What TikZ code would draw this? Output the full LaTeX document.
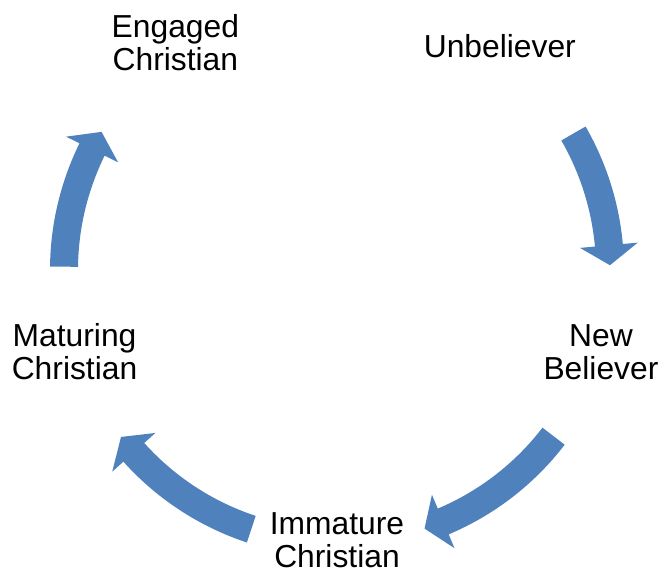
\documentclass[tikz,border=0pt]{standalone}
\usepackage{fontspec}
\setmainfont{Liberation Sans}
\usetikzlibrary{positioning,calc}
\definecolor{cycleblue}{HTML}{4F81BD}

% curved block arrow on the cycle, from angle #1 to angle #2
\newcommand{\cyclearrow}[2]{
   \fill[cyclearrow] ($(c)+(#1:287)$) arc[start angle=#1,end angle={#2-4.2},radius=287]
      -- ($(c)+({#2-4.2}:302)$) -- ($(c)+(#2:273)$) -- ($(c)+({#2-4.2}:244)$)
      -- ($(c)+({#2-4.2}:259)$) arc[start angle={#2-4.2},end angle=#1,radius=259] -- cycle;
}

\begin{document}
\begin{tikzpicture}[x=1pt,y=-1pt,
         stage/.style = {align=center,inner sep=0pt,
            font=\fontsize{31.8}{33}\selectfont},
         cyclearrow/.style = {fill=cycleblue}
]
   \useasboundingbox (0,0) rectangle (660,573);
   \coordinate (c) at (337,270);

   \node[stage] (unbeliever) at ($(c)+(-54:277)$) {Unbeliever};
   \node[stage] (newbeliever) at ($(c)+(17.25:276.4)$) {New\\Believer};
   \node[stage] (immature) at ($(c)+(90:270)$) {Immature\\Christian};
   \node[stage] (maturing) at ($(c)+(162.65:275)$) {Maturing\\Christian};
   \node[stage] (engaged) at ($(c)+(-125.4:279)$) {Engaged\\Christian};

   \cyclearrow{-30}{-1}
   \cyclearrow{37.5}{71.3}
   \cyclearrow{108.3}{142.3}
   \cyclearrow{180.7}{210.4}
\end{tikzpicture}
\end{document}
